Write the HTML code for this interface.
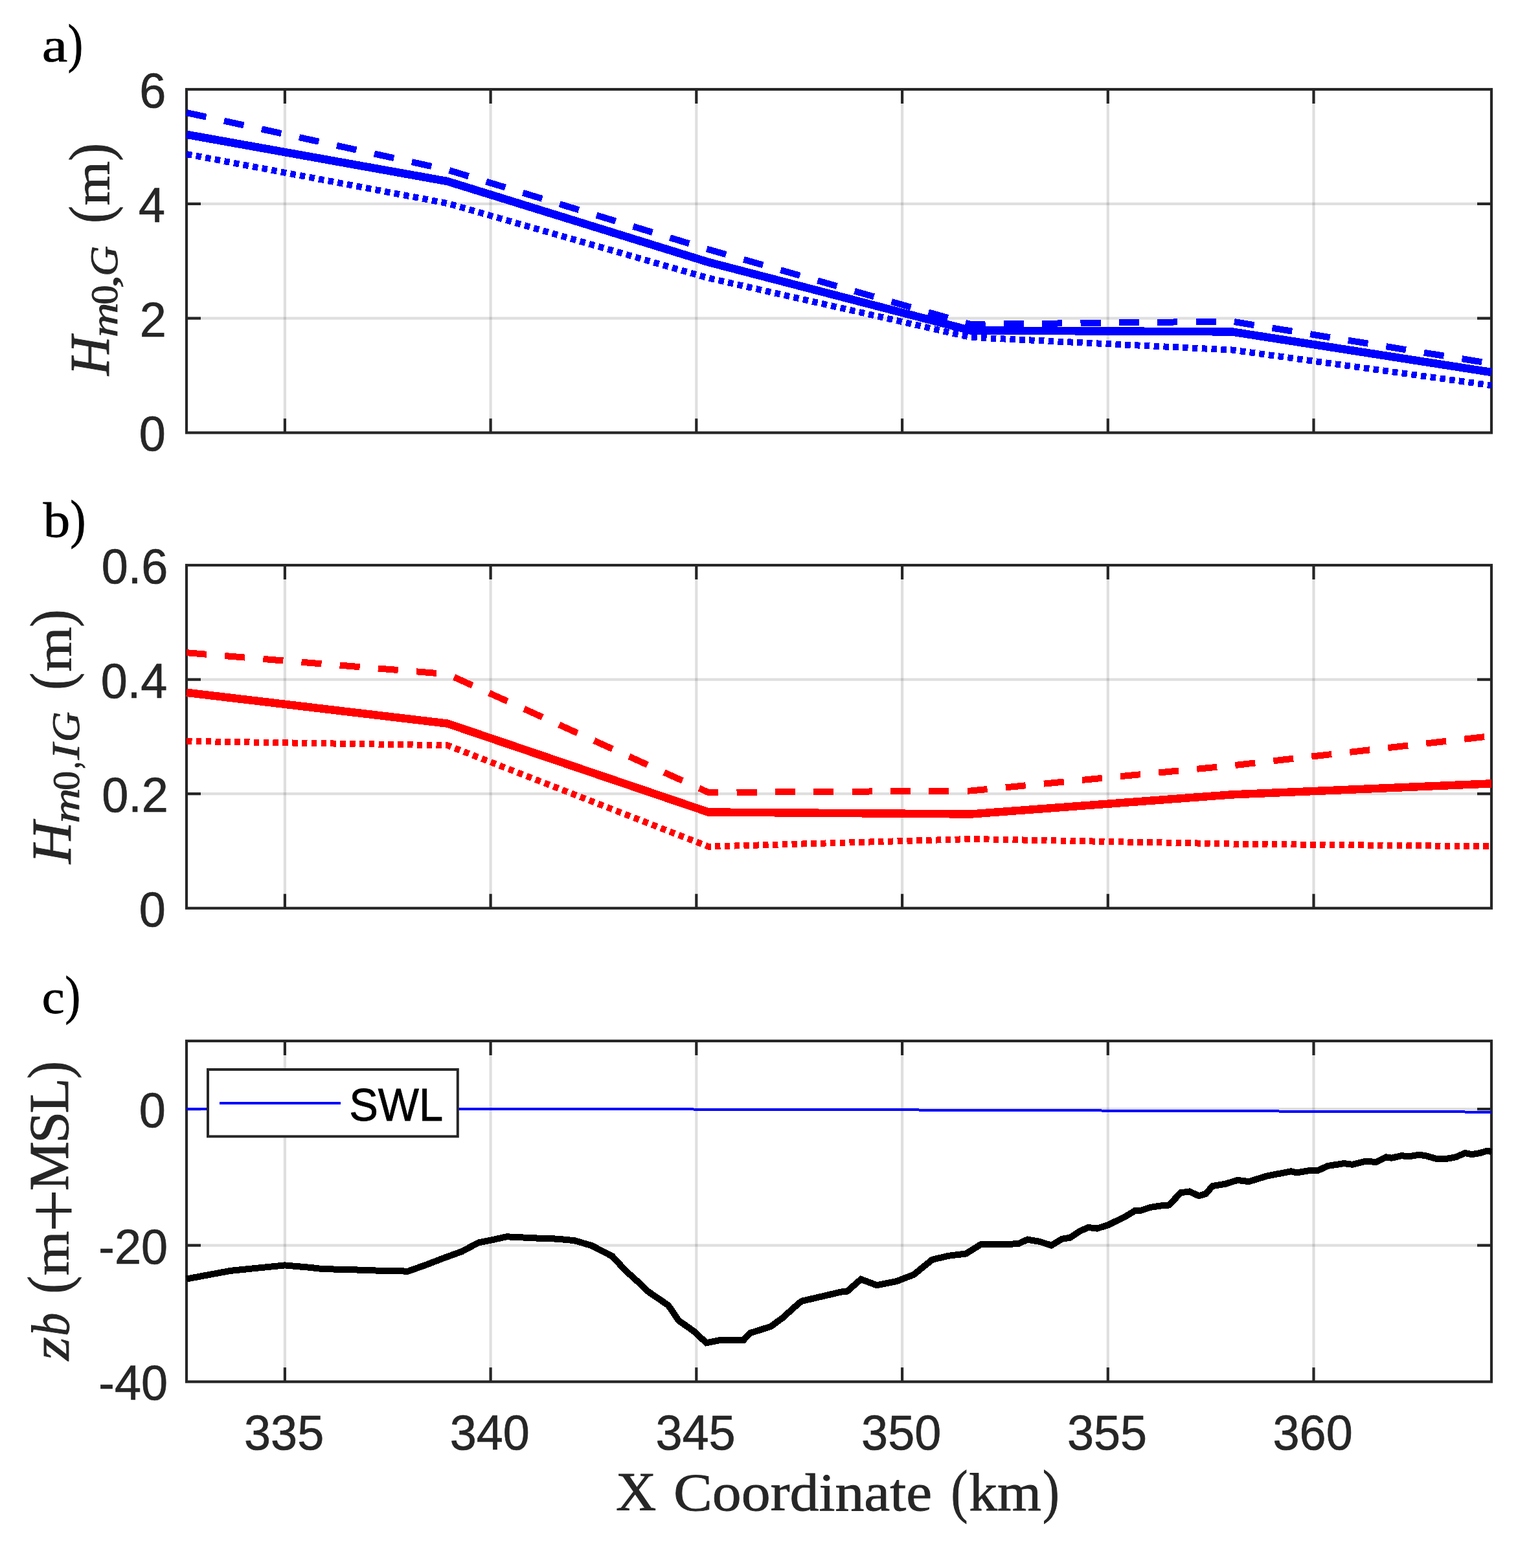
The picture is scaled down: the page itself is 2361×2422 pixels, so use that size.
<!DOCTYPE html><html><head><meta charset="utf-8"><style>html,body{margin:0;padding:0;background:#fff;}svg{display:block;}</style></head><body>
<svg width="2361" height="2422" viewBox="0 0 2361 2422">
<rect x="0" y="0" width="2361" height="2422" fill="#ffffff"/>
<path d="M439.9 138.0V668.4M757.6 138.0V668.4M1075.3 138.0V668.4M1393.1 138.0V668.4M1710.8 138.0V668.4M2028.5 138.0V668.4" stroke="#262626" stroke-opacity="0.15" stroke-width="4.17" fill="none"/>
<path d="M288.0 491.6H2303.0M288.0 314.8H2303.0" stroke="#262626" stroke-opacity="0.15" stroke-width="4.17" fill="none"/>
<path d="M439.9 668.4V646.4M439.9 138.0V160.0M757.6 668.4V646.4M757.6 138.0V160.0M1075.3 668.4V646.4M1075.3 138.0V160.0M1393.1 668.4V646.4M1393.1 138.0V160.0M1710.8 668.4V646.4M1710.8 138.0V160.0M2028.5 668.4V646.4M2028.5 138.0V160.0M288.0 491.6H310.0M2303.0 491.6H2281.0M288.0 314.8H310.0M2303.0 314.8H2281.0" stroke="#262626" stroke-width="4.17" fill="none"/>
<rect x="288.0" y="138.0" width="2015.0" height="530.4" stroke="#262626" stroke-width="4.17" fill="none"/>
<path d="M439.9 873.0V1402.8M757.6 873.0V1402.8M1075.3 873.0V1402.8M1393.1 873.0V1402.8M1710.8 873.0V1402.8M2028.5 873.0V1402.8" stroke="#262626" stroke-opacity="0.15" stroke-width="4.17" fill="none"/>
<path d="M288.0 1226.2H2303.0M288.0 1049.6H2303.0" stroke="#262626" stroke-opacity="0.15" stroke-width="4.17" fill="none"/>
<path d="M439.9 1402.8V1380.8M439.9 873.0V895.0M757.6 1402.8V1380.8M757.6 873.0V895.0M1075.3 1402.8V1380.8M1075.3 873.0V895.0M1393.1 1402.8V1380.8M1393.1 873.0V895.0M1710.8 1402.8V1380.8M1710.8 873.0V895.0M2028.5 1402.8V1380.8M2028.5 873.0V895.0M288.0 1226.2H310.0M2303.0 1226.2H2281.0M288.0 1049.6H310.0M2303.0 1049.6H2281.0" stroke="#262626" stroke-width="4.17" fill="none"/>
<rect x="288.0" y="873.0" width="2015.0" height="529.8" stroke="#262626" stroke-width="4.17" fill="none"/>
<path d="M439.9 1607.9V2134.3M757.6 1607.9V2134.3M1075.3 1607.9V2134.3M1393.1 1607.9V2134.3M1710.8 1607.9V2134.3M2028.5 1607.9V2134.3" stroke="#262626" stroke-opacity="0.15" stroke-width="4.17" fill="none"/>
<path d="M288.0 1923.7H2303.0M288.0 1713.2H2303.0" stroke="#262626" stroke-opacity="0.15" stroke-width="4.17" fill="none"/>
<path d="M439.9 2134.3V2112.3M439.9 1607.9V1629.9M757.6 2134.3V2112.3M757.6 1607.9V1629.9M1075.3 2134.3V2112.3M1075.3 1607.9V1629.9M1393.1 2134.3V2112.3M1393.1 1607.9V1629.9M1710.8 2134.3V2112.3M1710.8 1607.9V1629.9M2028.5 2134.3V2112.3M2028.5 1607.9V1629.9M288.0 1923.7H310.0M2303.0 1923.7H2281.0M288.0 1713.2H310.0M2303.0 1713.2H2281.0" stroke="#262626" stroke-width="4.17" fill="none"/>
<rect x="288.0" y="1607.9" width="2015.0" height="526.4000000000001" stroke="#262626" stroke-width="4.17" fill="none"/>
<text transform="translate(214.80,696.30) scale(0.9720,1.0000)" font-family="'Liberation Sans', Arial, Helvetica, sans-serif" font-size="76" fill="#262626" stroke="#262626" stroke-width="0.7">0</text>
<text transform="translate(215.63,519.50) scale(0.9720,1.0000)" font-family="'Liberation Sans', Arial, Helvetica, sans-serif" font-size="76" fill="#262626" stroke="#262626" stroke-width="0.7">2</text>
<text transform="translate(214.08,342.70) scale(0.9720,1.0000)" font-family="'Liberation Sans', Arial, Helvetica, sans-serif" font-size="76" fill="#262626" stroke="#262626" stroke-width="0.7">4</text>
<text transform="translate(215.16,165.90) scale(0.9720,1.0000)" font-family="'Liberation Sans', Arial, Helvetica, sans-serif" font-size="76" fill="#262626" stroke="#262626" stroke-width="0.7">6</text>
<text transform="translate(214.80,1430.70) scale(0.9720,1.0000)" font-family="'Liberation Sans', Arial, Helvetica, sans-serif" font-size="76" fill="#262626" stroke="#262626" stroke-width="0.7">0</text>
<text transform="translate(157.22,1254.10) scale(0.9720,1.0000)" font-family="'Liberation Sans', Arial, Helvetica, sans-serif" font-size="76" fill="#262626" stroke="#262626" stroke-width="0.7">0.2</text>
<text transform="translate(155.67,1077.50) scale(0.9720,1.0000)" font-family="'Liberation Sans', Arial, Helvetica, sans-serif" font-size="76" fill="#262626" stroke="#262626" stroke-width="0.7">0.4</text>
<text transform="translate(156.75,900.90) scale(0.9720,1.0000)" font-family="'Liberation Sans', Arial, Helvetica, sans-serif" font-size="76" fill="#262626" stroke="#262626" stroke-width="0.7">0.6</text>
<text transform="translate(152.32,2162.20) scale(0.9720,1.0000)" font-family="'Liberation Sans', Arial, Helvetica, sans-serif" font-size="76" fill="#262626" stroke="#262626" stroke-width="0.7">-40</text>
<text transform="translate(152.32,1951.64) scale(0.9720,1.0000)" font-family="'Liberation Sans', Arial, Helvetica, sans-serif" font-size="76" fill="#262626" stroke="#262626" stroke-width="0.7">-20</text>
<text transform="translate(214.80,1741.08) scale(0.9720,1.0000)" font-family="'Liberation Sans', Arial, Helvetica, sans-serif" font-size="76" fill="#262626" stroke="#262626" stroke-width="0.7">0</text>
<text transform="translate(377.02,2238.60) scale(0.9720,1.0000)" font-family="'Liberation Sans', Arial, Helvetica, sans-serif" font-size="76" fill="#262626" stroke="#262626" stroke-width="0.7">335</text>
<text transform="translate(694.63,2238.60) scale(0.9720,1.0000)" font-family="'Liberation Sans', Arial, Helvetica, sans-serif" font-size="76" fill="#262626" stroke="#262626" stroke-width="0.7">340</text>
<text transform="translate(1012.46,2238.60) scale(0.9720,1.0000)" font-family="'Liberation Sans', Arial, Helvetica, sans-serif" font-size="76" fill="#262626" stroke="#262626" stroke-width="0.7">345</text>
<text transform="translate(1330.07,2238.60) scale(0.9720,1.0000)" font-family="'Liberation Sans', Arial, Helvetica, sans-serif" font-size="76" fill="#262626" stroke="#262626" stroke-width="0.7">350</text>
<text transform="translate(1647.90,2238.60) scale(0.9720,1.0000)" font-family="'Liberation Sans', Arial, Helvetica, sans-serif" font-size="76" fill="#262626" stroke="#262626" stroke-width="0.7">355</text>
<text transform="translate(1965.51,2238.60) scale(0.9720,1.0000)" font-family="'Liberation Sans', Arial, Helvetica, sans-serif" font-size="76" fill="#262626" stroke="#262626" stroke-width="0.7">360</text>
<path d="M288.0 207.8 L691.0 280.1 L1094.0 405.0 L1499.0 510.5 L1902.0 512.4 L2303.0 575.0" stroke="#0000ff" stroke-width="12.5" fill="none" stroke-linejoin="miter" stroke-linecap="butt" shape-rendering="crispEdges" />
<path d="M288.0 174.0 L691.0 262.3 L1094.0 385.3 L1499.0 501.0 L1902.0 496.5 L2303.0 561.6" stroke="#0000ff" stroke-width="10" fill="none" stroke-linejoin="miter" stroke-linecap="butt" shape-rendering="crispEdges" stroke-dasharray="31.1 28.26"/>
<path d="M288.0 238.0 L691.0 314.1 L1094.0 429.5 L1499.0 521.0 L1902.0 540.5 L2303.0 595.3" stroke="#0000ff" stroke-width="10" fill="none" stroke-linejoin="miter" stroke-linecap="butt" shape-rendering="crispEdges" stroke-dasharray="8.5 6.33"/>
<path d="M288.0 1069.8 L691.0 1117.6 L1094.0 1254.5 L1499.0 1257.5 L1902.0 1227.4 L2303.0 1210.4" stroke="#ff0000" stroke-width="12.5" fill="none" stroke-linejoin="miter" stroke-linecap="butt" shape-rendering="crispEdges" />
<path d="M288.0 1008.2 L691.0 1041.3 L1094.0 1224.1 L1499.0 1221.5 L1902.0 1182.6 L2303.0 1136.9" stroke="#ff0000" stroke-width="10" fill="none" stroke-linejoin="miter" stroke-linecap="butt" shape-rendering="crispEdges" stroke-dasharray="31.1 28.26"/>
<path d="M288.0 1144.9 L691.0 1151.3 L1094.0 1307.7 L1499.0 1296.0 L1902.0 1303.5 L2303.0 1307.4" stroke="#ff0000" stroke-width="10" fill="none" stroke-linejoin="miter" stroke-linecap="butt" shape-rendering="crispEdges" stroke-dasharray="8.5 6.33"/>
<path d="M288.0 1712.5 L700.0 1712.6 L1000.0 1713.3 L1248.0 1714.0 L1586.0 1715.0 L1837.0 1716.1 L2245.0 1717.3 L2303.0 1718.0" stroke="#0000ff" stroke-width="4" fill="none" shape-rendering="crispEdges"/>
<path d="M288.0 1975.5 L355.8 1962.9 L439.7 1954.4 L479.6 1957.9 L499.6 1960.3 L545.5 1960.9 L559.4 1962.3 L619.3 1962.9 L628.3 1964.3 L660.0 1953.0 L680.0 1945.2 L713.6 1932.9 L738.8 1919.5 L757.3 1915.8 L782.5 1910.3 L801.0 1911.1 L822.9 1912.4 L848.1 1912.9 L864.9 1914.1 L886.7 1916.1 L913.6 1924.0 L945.5 1940.5 L965.7 1962.4 L990.0 1984.4 L1000.1 1994.5 L1032.0 2016.3 L1048.0 2039.8 L1070.7 2055.8 L1090.8 2074.3 L1111.0 2070.1 L1148.0 2070.1 L1158.0 2059.2 L1190.0 2049.1 L1208.5 2035.6 L1233.7 2012.9 L1238.7 2009.6 L1300.0 1995.3 L1308.4 1994.5 L1329.4 1976.0 L1353.8 1985.2 L1384.0 1979.3 L1410.9 1968.9 L1439.5 1945.7 L1464.7 1939.8 L1491.6 1936.5 L1515.1 1921.8 L1552.1 1921.8 L1572.3 1921.3 L1586.6 1914.6 L1605.9 1918.0 L1623.4 1923.7 L1640.3 1913.6 L1652.0 1911.9 L1667.1 1901.8 L1680.6 1896.0 L1694.0 1897.6 L1710.8 1892.3 L1737.7 1879.2 L1752.9 1869.9 L1761.3 1869.9 L1776.4 1864.9 L1793.2 1862.4 L1805.0 1861.5 L1823.4 1842.2 L1836.9 1840.5 L1851.2 1847.2 L1862.1 1843.9 L1872.2 1832.1 L1892.4 1828.7 L1910.8 1822.9 L1928.4 1825.1 L1955.7 1816.7 L1993.5 1809.3 L2001.9 1811.4 L2020.8 1808.3 L2034.5 1808.3 L2050.3 1800.9 L2075.5 1797.1 L2088.1 1798.8 L2109.1 1793.6 L2124.8 1795.0 L2140.6 1787.3 L2149.0 1788.7 L2163.7 1785.2 L2176.3 1786.2 L2191.0 1783.7 L2201.5 1785.2 L2218.3 1790.0 L2230.9 1790.4 L2247.7 1787.3 L2262.4 1781.0 L2272.9 1783.1 L2285.5 1781.0 L2296.0 1777.8 L2303.0 1778.9" stroke="#000000" stroke-width="10" fill="none" stroke-linejoin="miter" stroke-miterlimit="10" shape-rendering="crispEdges"/>
<rect x="321" y="1652" width="385.8" height="103.4" fill="#ffffff" stroke="#262626" stroke-width="4"/>
<path d="M339 1704H526" stroke="#0000ff" stroke-width="4"/>
<text transform="translate(539.26,1731.30) scale(0.9695,1.0300)" font-family="'Liberation Sans', Arial, Helvetica, sans-serif" font-size="69" fill="#000000" stroke="#000" stroke-width="0.8">SWL</text>
<text transform="translate(64.67,94.50) scale(1.2042,1.0000)" font-family="'Liberation Serif', 'Times New Roman', serif" font-size="74" fill="#000000" stroke="#000000" stroke-width="0.75">a</text>
<text transform="translate(104.74,95.10) scale(0.8495,1.0000)" font-family="'Liberation Serif', 'Times New Roman', serif" font-size="82.5" fill="#000000" stroke="#000000" stroke-width="1.06">)</text>
<text transform="translate(66.80,829.30) scale(1.0910,1.0000)" font-family="'Liberation Serif', 'Times New Roman', serif" font-size="76" fill="#000000" stroke="#000000" stroke-width="0.82">b</text>
<text transform="translate(108.59,829.90) scale(0.8684,1.0000)" font-family="'Liberation Serif', 'Times New Roman', serif" font-size="82.5" fill="#000000" stroke="#000000" stroke-width="1.04">)</text>
<text transform="translate(64.81,1564.80) scale(1.0595,1.0000)" font-family="'Liberation Serif', 'Times New Roman', serif" font-size="74" fill="#000000" stroke="#000000" stroke-width="0.85">c</text>
<text transform="translate(100.50,1565.40) scale(0.8637,1.0000)" font-family="'Liberation Serif', 'Times New Roman', serif" font-size="82.5" fill="#000000" stroke="#000000" stroke-width="1.04">)</text>
<text transform="translate(951.00,2332.80) scale(1.0279,1.0000)" font-family="'Liberation Serif', 'Times New Roman', serif" font-size="84" fill="#262626" stroke="#262626" stroke-width="0.88">X</text>
<text transform="translate(1039.92,2332.80) scale(1.0956,1.0000)" font-family="'Liberation Serif', 'Times New Roman', serif" font-size="82" fill="#262626" stroke="#262626" stroke-width="0.82">Coordinate</text>
<text transform="translate(1468.48,2334.30) scale(0.8586,1.0000)" font-family="'Liberation Serif', 'Times New Roman', serif" font-size="90.7" fill="#262626" stroke="#262626" stroke-width="1.05">(</text>
<text transform="translate(1496.33,2332.80) scale(1.0663,1.0000)" font-family="'Liberation Serif', 'Times New Roman', serif" font-size="82" fill="#262626" stroke="#262626" stroke-width="0.84">km</text>
<text transform="translate(1609.92,2334.30) scale(0.8500,1.0000)" font-family="'Liberation Serif', 'Times New Roman', serif" font-size="90.7" fill="#262626" stroke="#262626" stroke-width="1.06">)</text>
<text transform="translate(167.80,580.09) rotate(-90) scale(0.9807,1.0000)" font-family="'Liberation Serif', 'Times New Roman', serif" font-style="italic" font-size="86" fill="#262626" stroke="#262626" stroke-width="0.92">H</text>
<text transform="translate(181.20,521.20) rotate(-90) scale(1.2473,1.0000)" font-family="'Liberation Serif', 'Times New Roman', serif" font-style="italic" font-size="60" fill="#262626" stroke="#262626" stroke-width="0.72">m</text>
<text transform="translate(181.20,470.60) rotate(-90) scale(1.0067,1.0000)" font-family="'Liberation Serif', 'Times New Roman', serif" font-size="60" fill="#262626" stroke="#262626" stroke-width="0.89">0</text>
<text transform="translate(181.20,446.10) rotate(-90) scale(1.4884,1.0000)" font-family="'Liberation Serif', 'Times New Roman', serif" font-size="60" fill="#262626" stroke="#262626" stroke-width="0.60">,</text>
<text transform="translate(181.20,426.79) rotate(-90) scale(1.0494,1.0000)" font-family="'Liberation Serif', 'Times New Roman', serif" font-style="italic" font-size="62" fill="#262626" stroke="#262626" stroke-width="0.86">G</text>
<text transform="translate(169.90,344.81) rotate(-90) scale(0.8800,1.0000)" font-family="'Liberation Serif', 'Times New Roman', serif" font-size="90.7" fill="#262626" stroke="#262626" stroke-width="1.02">(</text>
<text transform="translate(167.80,317.56) rotate(-90) scale(1.1186,1.0000)" font-family="'Liberation Serif', 'Times New Roman', serif" font-size="79" fill="#262626" stroke="#262626" stroke-width="0.80">m</text>
<text transform="translate(169.90,248.69) rotate(-90) scale(0.9187,1.0000)" font-family="'Liberation Serif', 'Times New Roman', serif" font-size="90.7" fill="#262626" stroke="#262626" stroke-width="0.98">)</text>
<text transform="translate(109.00,1334.03) rotate(-90) scale(1.0329,1.0000)" font-family="'Liberation Serif', 'Times New Roman', serif" font-style="italic" font-size="87" fill="#262626" stroke="#262626" stroke-width="0.87">H</text>
<text transform="translate(121.80,1271.83) rotate(-90) scale(1.2577,1.0000)" font-family="'Liberation Serif', 'Times New Roman', serif" font-style="italic" font-size="60" fill="#262626" stroke="#262626" stroke-width="0.72">m</text>
<text transform="translate(121.80,1220.77) rotate(-90) scale(0.9949,1.0000)" font-family="'Liberation Serif', 'Times New Roman', serif" font-size="60" fill="#262626" stroke="#262626" stroke-width="0.90">0</text>
<text transform="translate(121.80,1187.61) rotate(-90) scale(0.7498,1.0000)" font-family="'Liberation Serif', 'Times New Roman', serif" font-size="60" fill="#262626" stroke="#262626" stroke-width="1.20">,</text>
<text transform="translate(121.80,1173.61) rotate(-90) scale(1.2012,1.0000)" font-family="'Liberation Serif', 'Times New Roman', serif" font-style="italic" font-size="62" fill="#262626" stroke="#262626" stroke-width="0.75">I</text>
<text transform="translate(121.80,1146.18) rotate(-90) scale(1.0469,1.0000)" font-family="'Liberation Serif', 'Times New Roman', serif" font-style="italic" font-size="62" fill="#262626" stroke="#262626" stroke-width="0.86">G</text>
<text transform="translate(110.10,1065.57) rotate(-90) scale(0.8714,1.0000)" font-family="'Liberation Serif', 'Times New Roman', serif" font-size="90.7" fill="#262626" stroke="#262626" stroke-width="1.03">(</text>
<text transform="translate(109.10,1037.87) rotate(-90) scale(1.1288,1.0000)" font-family="'Liberation Serif', 'Times New Roman', serif" font-size="79" fill="#262626" stroke="#262626" stroke-width="0.80">m</text>
<text transform="translate(110.10,968.75) rotate(-90) scale(0.9058,1.0000)" font-family="'Liberation Serif', 'Times New Roman', serif" font-size="90.7" fill="#262626" stroke="#262626" stroke-width="0.99">)</text>
<text transform="translate(106.00,2101.56) rotate(-90) scale(1.1202,1.0000)" font-family="'Liberation Serif', 'Times New Roman', serif" font-style="italic" font-size="83" fill="#262626" stroke="#262626" stroke-width="0.80">z</text>
<text transform="translate(106.00,2063.77) rotate(-90) scale(0.8661,1.0000)" font-family="'Liberation Serif', 'Times New Roman', serif" font-style="italic" font-size="83" fill="#262626" stroke="#262626" stroke-width="1.04">b</text>
<text transform="translate(105.60,1998.46) rotate(-90) scale(0.9187,1.0000)" font-family="'Liberation Serif', 'Times New Roman', serif" font-size="90.7" fill="#262626" stroke="#262626" stroke-width="0.98">(</text>
<text transform="translate(105.30,1970.36) rotate(-90) scale(1.1203,1.0000)" font-family="'Liberation Serif', 'Times New Roman', serif" font-size="79" fill="#262626" stroke="#262626" stroke-width="0.80">m</text>
<text transform="translate(123.20,1903.76) rotate(-90) scale(1.0144,1.0000)" font-family="'Liberation Serif', 'Times New Roman', serif" font-size="118" fill="#262626" >+</text>
<text transform="translate(104.90,1839.26) rotate(-90) scale(0.9834,1.0000)" font-family="'Liberation Serif', 'Times New Roman', serif" font-size="87" fill="#262626" stroke="#262626" stroke-width="0.92">M</text>
<text transform="translate(104.90,1765.92) rotate(-90) scale(1.0169,1.0000)" font-family="'Liberation Serif', 'Times New Roman', serif" font-size="87" fill="#262626" stroke="#262626" stroke-width="0.89">S</text>
<text transform="translate(104.90,1719.68) rotate(-90) scale(1.0306,1.0000)" font-family="'Liberation Serif', 'Times New Roman', serif" font-size="87" fill="#262626" stroke="#262626" stroke-width="0.87">L</text>
<text transform="translate(105.60,1666.55) rotate(-90) scale(0.9058,1.0000)" font-family="'Liberation Serif', 'Times New Roman', serif" font-size="90.7" fill="#262626" stroke="#262626" stroke-width="0.99">)</text>
</svg></body></html>
